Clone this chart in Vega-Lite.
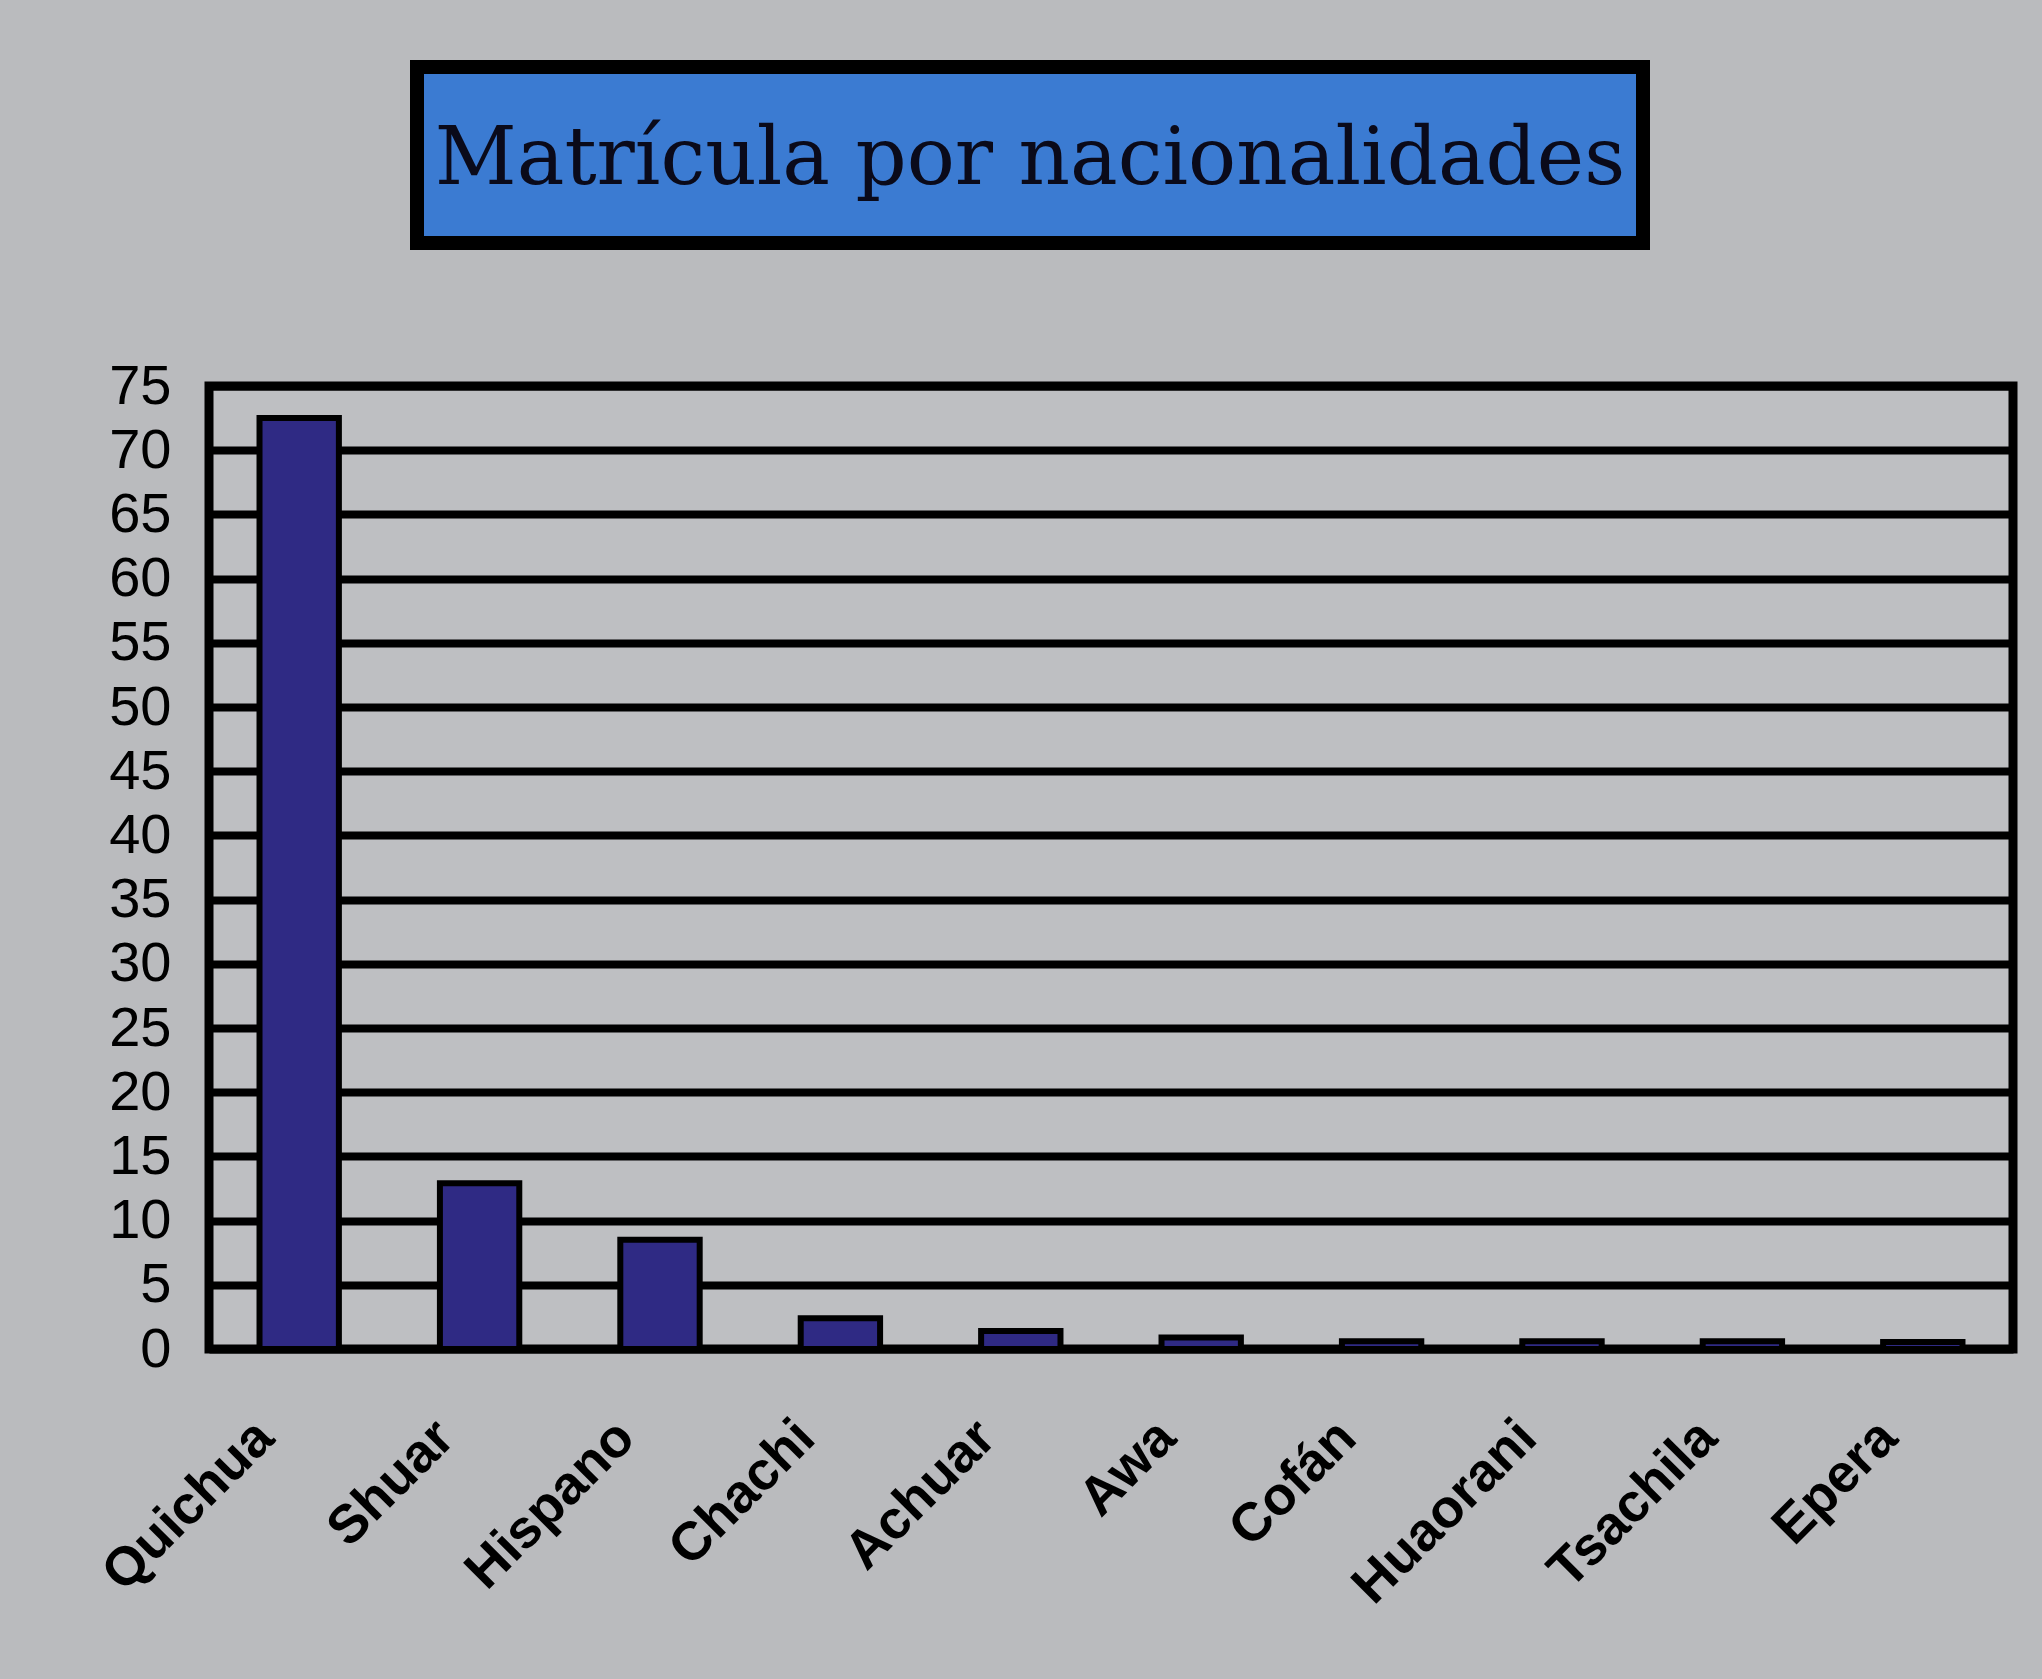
{
  "$schema": "https://vega.github.io/schema/vega-lite/v6.json",
  "background": "#babbbe",
  "padding": {"left": 88, "top": 60, "right": 27, "bottom": 60},
  "spacing": 103,
  "config": {
    "view": {"stroke": null},
    "font": "Liberation Sans"
  },
  "datasets": {
    "matricula": [
      {"nacionalidad": "Quichua", "porcentaje": 72.5},
      {"nacionalidad": "Shuar", "porcentaje": 12.9},
      {"nacionalidad": "Hispano", "porcentaje": 8.5},
      {"nacionalidad": "Chachi", "porcentaje": 2.4},
      {"nacionalidad": "Achuar", "porcentaje": 1.4},
      {"nacionalidad": "Awa", "porcentaje": 0.9},
      {"nacionalidad": "Cofán", "porcentaje": 0.6},
      {"nacionalidad": "Huaorani", "porcentaje": 0.6},
      {"nacionalidad": "Tsachila", "porcentaje": 0.6},
      {"nacionalidad": "Epera", "porcentaje": 0.55}
    ],
    "titulo": [
      {"texto": "Matrícula por nacionalidades"}
    ],
    "vacio": []
  },
  "vconcat": [
    {
      "spacing": 20,
      "hconcat": [
        {
          "width": 181,
          "height": 176,
          "view": {"fill": "#babbbe", "stroke": null},
          "data": {"name": "vacio"},
          "mark": {"type": "text"},
          "encoding": {}
        },
        {
          "width": 1226,
          "height": 176,
          "view": {"fill": "#3b7bd2", "stroke": "#000000", "strokeWidth": 14},
          "data": {"name": "titulo"},
          "mark": {
            "type": "text",
            "font": "DejaVu Serif",
            "fontSize": 80,
            "color": "#0a0a1a",
            "align": "center",
            "baseline": "alphabetic",
            "dy": 29
          },
          "encoding": {
            "text": {"field": "texto", "type": "nominal"}
          }
        }
      ]
    },
    {
      "width": 1804,
      "height": 963,
      "view": {"fill": "#bebfc2", "stroke": "#000000", "strokeWidth": 9},
      "data": {"name": "matricula"},
      "mark": {"type": "bar", "fill": "#2f2a84", "stroke": "#000000", "strokeWidth": 6},
      "encoding": {
        "x": {
          "field": "nacionalidad",
          "type": "nominal",
          "sort": null,
          "scale": {"paddingInner": 0.56, "paddingOuter": 0.28},
          "axis": {
            "title": null,
            "domain": false,
            "ticks": false,
            "grid": false,
            "labelAngle": -45,
            "labelAlign": "right",
            "labelBaseline": "middle",
            "labelFont": "Liberation Sans",
            "labelFontWeight": "bold",
            "labelFontSize": 54,
            "labelLimit": 0,
            "labelColor": "#000000",
            "labelPadding": 80,
            "labelOffset": -34
          }
        },
        "y": {
          "field": "porcentaje",
          "type": "quantitative",
          "scale": {"domain": [0, 75], "nice": false},
          "axis": {
            "title": null,
            "values": [0, 5, 10, 15, 20, 25, 30, 35, 40, 45, 50, 55, 60, 65, 70, 75],
            "domain": false,
            "ticks": false,
            "grid": true,
            "gridColor": "#000000",
            "gridWidth": 8,
            "gridOpacity": 1,
            "labelFont": "Liberation Sans",
            "labelFontSize": 56,
            "labelColor": "#000000",
            "labelPadding": 38
          }
        }
      }
    }
  ]
}
